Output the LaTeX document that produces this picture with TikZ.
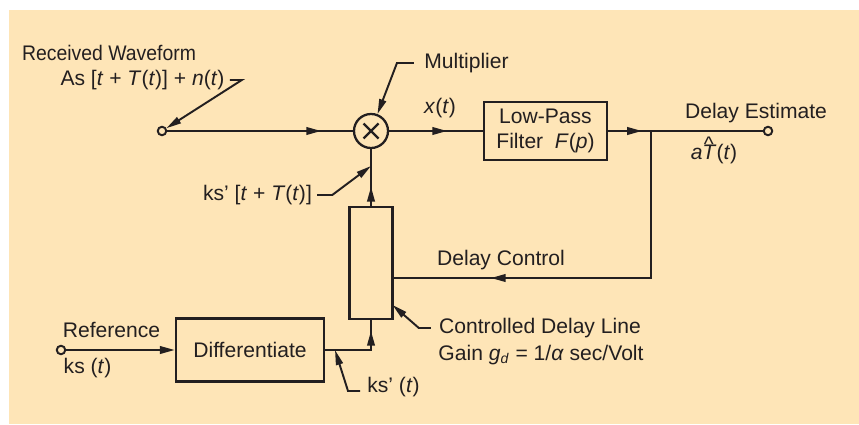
\documentclass[tikz,border=0pt]{standalone}
\usepackage{fontspec}
\setmainfont{Liberation Sans}
\usepackage{xcolor}
\usepackage{tikz}
\usetikzlibrary{arrows.meta,decorations.markings}
\definecolor{PaperCream}{HTML}{FEE5B7}
\definecolor{Ink}{HTML}{231F20}
\newcommand{\hatT}{\textit{T}\llap{\raisebox{0.36em}[0pt][0pt]{\^{}}\hspace{0.13em}}}

\begin{document}
\begin{tikzpicture}[
  every node/.style={font=\fontsize{12}{14.4}\selectfont,text=Ink},
  lbl/.style={inner sep=0pt},
  block/.style={draw=Ink,line width=1.3pt,align=center,inner sep=0pt},
  port/.style={circle,draw=Ink,line width=1.1pt,fill=PaperCream,minimum size=0.17cm,inner sep=0pt},
  mixer/.style={circle,draw=Ink,line width=1.3pt,minimum size=0.68cm,inner sep=0pt},
  sig/.style={draw=Ink,line width=1.3pt},
  flowat/.style={sig,postaction={decorate},decoration={markings,mark=at position #1 with {\arrow{Triangle[length=3mm,width=1.5mm]}}}},
  lead/.style={draw=Ink,line width=1.1pt,-{Triangle[length=3mm,width=1.4mm]}}
]
\useasboundingbox (0,0) rectangle (17.18,8.48);
\fill[PaperCream] (0.18,0) rectangle (17.18,8.28);

% upper signal path
\node[port] (inRx) at (3.24,5.86) {};
\node[mixer] (mult) at (7.42,5.86) {};
\draw[sig] (mult.center) +(-0.15,-0.15) -- +(0.15,0.15) (mult.center) +(-0.15,0.15) -- +(0.15,-0.15);
\node[block,minimum width=2.46cm,minimum height=1.16cm] (lpf) at (10.91,5.86) {Low-Pass\\Filter~ \textit{F}(\textit{p})};
\node[port] (outEst) at (15.36,5.86) {};
\coordinate (branch) at (13.02,5.86);
\coordinate (turn) at (13.02,2.92);

% lower path
\node[block,minimum width=0.86cm,minimum height=2.24cm] (delay) at (7.42,3.22) {};
\node[block,minimum width=2.96cm,minimum height=1.26cm] (diff) at (5.0,1.48) {Differentiate};
\node[port] (refIn) at (1.22,1.48) {};
\coordinate (bend) at (7.42,1.48);

% labels
\node[lbl] (rxlab) at (2.18,7.42) {\scalebox{0.92}[1]{Received Waveform}};
\node[lbl] (rxsig) at (2.85,6.88) {As [\textit{t} + \textit{T}(\textit{t})] + \textit{n}(\textit{t})};
\node[lbl] (multlab) at (9.33,7.22) {Multiplier};
\node[lbl] (xlab) at (8.80,6.32) {\textit{x}(\textit{t})};
\node[lbl] (estlab) at (15.12,6.22) {Delay Estimate};
\node[lbl] (esthat) at (14.28,5.40) {\textit{a}\hatT(\textit{t})};
\node[lbl] (ctrllab) at (10.02,3.28) {Delay Control};
\node[lbl] (fbklab) at (5.15,4.58) {ks’ [\textit{t} + \textit{T}(\textit{t})]};
\node[lbl] (reflab) at (2.23,1.88) {Reference};
\node[lbl] (refsig) at (1.75,1.12) {ks (\textit{t})};
\node[lbl] (dlab) at (7.87,0.74) {ks’ (\textit{t})};
\node[lbl] (cdlab) at (10.80,1.92) {Controlled Delay Line};
\node[lbl] (gainlab) at (10.82,1.38) {Gain \textit{g}\textsubscript{\textit{d}} = 1/\textit{α} sec/Volt};

\coordinate (tapA) at (7.42,5.16);
\coordinate (tapB) at (6.70,1.48);
\coordinate (tapC) at (7.85,2.38);

% connectors
\draw[flowat=0.83] (inRx) -- (mult);
\draw[flowat=0.62] (mult) -- (lpf);
\draw[flowat=0.22] (lpf) -- (outEst);
\draw[flowat=0.76] (branch) -- (turn) -- (delay.east |- turn);
\draw[flowat=0.34] (delay) -- (mult);
\draw[sig,-{Triangle[length=3mm,width=1.5mm]}] (refIn) -- (diff);
\draw[flowat=0.86] (diff) -- (bend) -- (delay);

% leaders
\draw[lead] (rxsig.east) ++(0.1,0) -- ++(0.24,0) -- (inRx);
\draw[lead] (multlab.west) ++(-0.2,0) -- ++(-0.34,0) -- (mult);
\draw[lead] (fbklab.east) ++(0.1,0) -- ++(0.3,0) -- (tapA);
\draw[lead] (dlab.west) ++(-0.14,-0.08) -- ++(-0.24,0) -- (tapB);
\draw[lead] (cdlab.west) ++(-0.16,0) -- ++(-0.24,0) -- (tapC);
\end{tikzpicture}
\end{document}
